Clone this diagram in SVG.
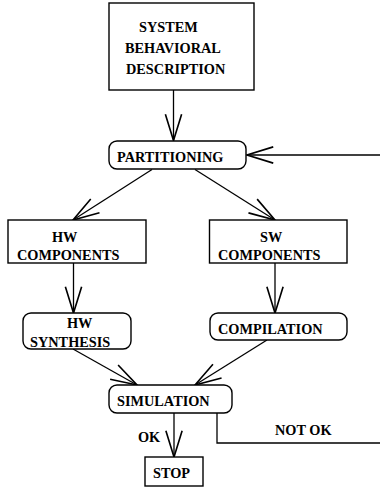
<svg xmlns="http://www.w3.org/2000/svg" width="380" height="489" viewBox="0 0 380 489">
<defs>
<style>
.box{fill:#fff;stroke:#000;stroke-width:1.4}
.t{font-family:"Liberation Serif","Times New Roman",serif;font-weight:bold;font-size:14.3px;fill:#000}
.c{fill:none;stroke:#000;stroke-width:1.3}
</style>
<marker id="v" markerUnits="userSpaceOnUse" markerWidth="30" markerHeight="20" viewBox="-22 -8 24 16" refX="0" refY="0" orient="auto">
<path d="M-21,-6.5 L0,0 L-21,6.5" fill="none" stroke="#000" stroke-width="1.3"/>
</marker>
</defs>
<rect width="380" height="489" fill="#fff"/>
<g id="connectors">
<line class="c" x1="173.5" y1="90" x2="173.5" y2="140.5" marker-end="url(#v)"/>
<line class="c" x1="380" y1="155" x2="247" y2="155" marker-end="url(#v)"/>
<line class="c" x1="152" y1="169.5" x2="73" y2="220" marker-end="url(#v)"/>
<line class="c" x1="195" y1="169.5" x2="275" y2="220" marker-end="url(#v)"/>
<line class="c" x1="73.5" y1="263" x2="73.5" y2="313" marker-end="url(#v)"/>
<line class="c" x1="275" y1="263" x2="275" y2="313" marker-end="url(#v)"/>
<line class="c" x1="73" y1="349" x2="137" y2="385" marker-end="url(#v)"/>
<line class="c" x1="267" y1="340" x2="195" y2="385" marker-end="url(#v)"/>
<line class="c" x1="174" y1="413" x2="174" y2="457" marker-end="url(#v)"/>
<polyline class="c" points="217,413 217,443 380,443"/>
<text class="t" x="138" y="442">OK</text>
<text class="t" x="275" y="435">NOT OK</text>
</g>
<g id="system">
<rect class="box" x="109" y="3" width="145" height="87"/>
<text class="t" x="139" y="32">SYSTEM</text>
<text class="t" x="125" y="53">BEHAVIORAL</text>
<text class="t" x="126" y="74">DESCRIPTION</text>
</g>
<g id="partitioning">
<rect class="box" x="109" y="141" width="137" height="28" rx="8"/>
<text class="t" x="117" y="162">PARTITIONING</text>
</g>
<g id="hw-components">
<rect class="box" x="8" y="220" width="138" height="43"/>
<text class="t" x="52" y="242">HW</text>
<text class="t" x="17" y="260">COMPONENTS</text>
</g>
<g id="sw-components">
<rect class="box" x="209.5" y="220" width="137.5" height="43"/>
<text class="t" x="260" y="242">SW</text>
<text class="t" x="218" y="260">COMPONENTS</text>
</g>
<g id="hw-synthesis">
<rect class="box" x="23" y="313" width="108" height="36" rx="8"/>
<text class="t" x="67" y="328">HW</text>
<text class="t" x="30" y="347">SYNTHESIS</text>
</g>
<g id="compilation">
<rect class="box" x="210" y="313" width="137" height="27" rx="8"/>
<text class="t" x="218" y="334">COMPILATION</text>
</g>
<g id="simulation">
<rect class="box" x="109" y="385" width="123" height="28" rx="8"/>
<text class="t" x="117" y="406">SIMULATION</text>
</g>
<g id="stop">
<rect class="box" x="145" y="457" width="58" height="29"/>
<text class="t" x="153" y="478">STOP</text>
</g>
</svg>
